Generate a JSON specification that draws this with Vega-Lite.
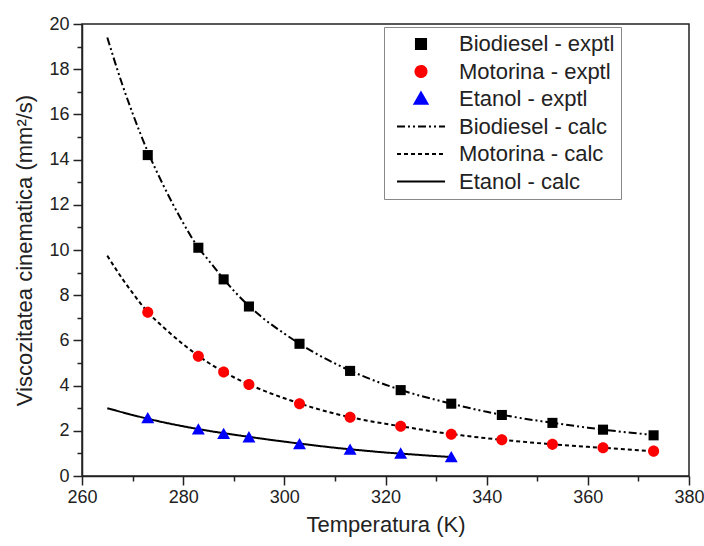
{
  "$schema": "https://vega.github.io/schema/vega-lite/v6.json",
  "width": 607,
  "height": 452,
  "autosize": "none",
  "padding": {"left": 82, "top": 24, "right": 15, "bottom": 70},
  "background": "white",
  "config": {
    "view": {"stroke": "#222", "strokeWidth": 1.5},
    "font": "Liberation Sans",
    "axis": {"grid": false, "labelFlush": false, "labelOverlap": false, "domainColor": "#222", "domainWidth": 1.5, "tickColor": "#222", "tickWidth": 1.5, "labelFont": "Liberation Sans", "labelFontSize": 18, "labelColor": "#222", "titleFont": "Liberation Sans", "titleFontSize": 22, "titleFontWeight": "normal", "titleColor": "#222"}
  },
  "resolve": {"axis": {"x": "independent", "y": "independent"}},
  "datasets": {
    "calc": [
      {"T": 265, "v": 19.4, "series": "Biodiesel - calc"},
      {"T": 268, "v": 17.3, "series": "Biodiesel - calc"},
      {"T": 270, "v": 16.05, "series": "Biodiesel - calc"},
      {"T": 273, "v": 14.35, "series": "Biodiesel - calc"},
      {"T": 276, "v": 12.9, "series": "Biodiesel - calc"},
      {"T": 280, "v": 11.2, "series": "Biodiesel - calc"},
      {"T": 283, "v": 10.1, "series": "Biodiesel - calc"},
      {"T": 285, "v": 9.55, "series": "Biodiesel - calc"},
      {"T": 290, "v": 8.2, "series": "Biodiesel - calc"},
      {"T": 295, "v": 7.13, "series": "Biodiesel - calc"},
      {"T": 300, "v": 6.3, "series": "Biodiesel - calc"},
      {"T": 305, "v": 5.58, "series": "Biodiesel - calc"},
      {"T": 310, "v": 4.98, "series": "Biodiesel - calc"},
      {"T": 315, "v": 4.47, "series": "Biodiesel - calc"},
      {"T": 320, "v": 4.04, "series": "Biodiesel - calc"},
      {"T": 325, "v": 3.67, "series": "Biodiesel - calc"},
      {"T": 330, "v": 3.37, "series": "Biodiesel - calc"},
      {"T": 335, "v": 3.09, "series": "Biodiesel - calc"},
      {"T": 340, "v": 2.84, "series": "Biodiesel - calc"},
      {"T": 345, "v": 2.63, "series": "Biodiesel - calc"},
      {"T": 350, "v": 2.45, "series": "Biodiesel - calc"},
      {"T": 355, "v": 2.29, "series": "Biodiesel - calc"},
      {"T": 360, "v": 2.14, "series": "Biodiesel - calc"},
      {"T": 365, "v": 2.0, "series": "Biodiesel - calc"},
      {"T": 370, "v": 1.88, "series": "Biodiesel - calc"},
      {"T": 373, "v": 1.82, "series": "Biodiesel - calc"},
      {"T": 265, "v": 9.75, "series": "Motorina - calc"},
      {"T": 268, "v": 8.72, "series": "Motorina - calc"},
      {"T": 270, "v": 8.1, "series": "Motorina - calc"},
      {"T": 273, "v": 7.25, "series": "Motorina - calc"},
      {"T": 276, "v": 6.6, "series": "Motorina - calc"},
      {"T": 280, "v": 5.83, "series": "Motorina - calc"},
      {"T": 285, "v": 5.01, "series": "Motorina - calc"},
      {"T": 290, "v": 4.37, "series": "Motorina - calc"},
      {"T": 295, "v": 3.86, "series": "Motorina - calc"},
      {"T": 300, "v": 3.44, "series": "Motorina - calc"},
      {"T": 305, "v": 3.07, "series": "Motorina - calc"},
      {"T": 310, "v": 2.76, "series": "Motorina - calc"},
      {"T": 315, "v": 2.51, "series": "Motorina - calc"},
      {"T": 320, "v": 2.31, "series": "Motorina - calc"},
      {"T": 325, "v": 2.13, "series": "Motorina - calc"},
      {"T": 330, "v": 1.95, "series": "Motorina - calc"},
      {"T": 335, "v": 1.8, "series": "Motorina - calc"},
      {"T": 340, "v": 1.67, "series": "Motorina - calc"},
      {"T": 345, "v": 1.56, "series": "Motorina - calc"},
      {"T": 350, "v": 1.46, "series": "Motorina - calc"},
      {"T": 355, "v": 1.37, "series": "Motorina - calc"},
      {"T": 360, "v": 1.29, "series": "Motorina - calc"},
      {"T": 365, "v": 1.22, "series": "Motorina - calc"},
      {"T": 370, "v": 1.14, "series": "Motorina - calc"},
      {"T": 373, "v": 1.1, "series": "Motorina - calc"},
      {"T": 265, "v": 3.0, "series": "Etanol - calc"},
      {"T": 270, "v": 2.7, "series": "Etanol - calc"},
      {"T": 275, "v": 2.43, "series": "Etanol - calc"},
      {"T": 280, "v": 2.2, "series": "Etanol - calc"},
      {"T": 285, "v": 2.0, "series": "Etanol - calc"},
      {"T": 290, "v": 1.83, "series": "Etanol - calc"},
      {"T": 295, "v": 1.67, "series": "Etanol - calc"},
      {"T": 300, "v": 1.52, "series": "Etanol - calc"},
      {"T": 305, "v": 1.38, "series": "Etanol - calc"},
      {"T": 310, "v": 1.25, "series": "Etanol - calc"},
      {"T": 315, "v": 1.14, "series": "Etanol - calc"},
      {"T": 320, "v": 1.04, "series": "Etanol - calc"},
      {"T": 325, "v": 0.96, "series": "Etanol - calc"},
      {"T": 330, "v": 0.88, "series": "Etanol - calc"},
      {"T": 333, "v": 0.84, "series": "Etanol - calc"}
    ],
    "exptl": [
      {"T": 273, "v": 14.2, "series": "Biodiesel - exptl"},
      {"T": 283, "v": 10.1, "series": "Biodiesel - exptl"},
      {"T": 288, "v": 8.7, "series": "Biodiesel - exptl"},
      {"T": 293, "v": 7.5, "series": "Biodiesel - exptl"},
      {"T": 303, "v": 5.85, "series": "Biodiesel - exptl"},
      {"T": 313, "v": 4.65, "series": "Biodiesel - exptl"},
      {"T": 323, "v": 3.8, "series": "Biodiesel - exptl"},
      {"T": 333, "v": 3.2, "series": "Biodiesel - exptl"},
      {"T": 343, "v": 2.7, "series": "Biodiesel - exptl"},
      {"T": 353, "v": 2.35, "series": "Biodiesel - exptl"},
      {"T": 363, "v": 2.05, "series": "Biodiesel - exptl"},
      {"T": 373, "v": 1.8, "series": "Biodiesel - exptl"},
      {"T": 273, "v": 7.25, "series": "Motorina - exptl"},
      {"T": 283, "v": 5.3, "series": "Motorina - exptl"},
      {"T": 288, "v": 4.6, "series": "Motorina - exptl"},
      {"T": 293, "v": 4.05, "series": "Motorina - exptl"},
      {"T": 303, "v": 3.2, "series": "Motorina - exptl"},
      {"T": 313, "v": 2.6, "series": "Motorina - exptl"},
      {"T": 323, "v": 2.2, "series": "Motorina - exptl"},
      {"T": 333, "v": 1.85, "series": "Motorina - exptl"},
      {"T": 343, "v": 1.6, "series": "Motorina - exptl"},
      {"T": 353, "v": 1.4, "series": "Motorina - exptl"},
      {"T": 363, "v": 1.25, "series": "Motorina - exptl"},
      {"T": 373, "v": 1.1, "series": "Motorina - exptl"},
      {"T": 273, "v": 2.55, "series": "Etanol - exptl"},
      {"T": 283, "v": 2.05, "series": "Etanol - exptl"},
      {"T": 288, "v": 1.85, "series": "Etanol - exptl"},
      {"T": 293, "v": 1.7, "series": "Etanol - exptl"},
      {"T": 303, "v": 1.4, "series": "Etanol - exptl"},
      {"T": 313, "v": 1.15, "series": "Etanol - exptl"},
      {"T": 323, "v": 0.98, "series": "Etanol - exptl"},
      {"T": 333, "v": 0.82, "series": "Etanol - exptl"}
    ]
  },
  "layer": [
    {
      "data": {"name": "calc"},
      "mark": {"type": "line", "strokeWidth": 2, "interpolate": "monotone"},
      "encoding": {
        "x": {"field": "T", "type": "quantitative", "scale": {"domain": [260, 380], "nice": false, "zero": false},
          "axis": {"values": [260, 280, 300, 320, 340, 360, 380], "tickSize": 9, "labelPadding": 3, "title": "Temperatura (K)", "titlePadding": 8, "orient": "bottom"}},
        "y": {"field": "v", "type": "quantitative", "scale": {"domain": [0, 20], "nice": false},
          "axis": {"values": [0, 2, 4, 6, 8, 10, 12, 14, 16, 18, 20], "tickSize": 9, "labelPadding": 4, "title": "Viscozitatea cinematica (mm²/s)", "titlePadding": 12, "orient": "left"}},
        "color": {"field": "series", "type": "nominal",
          "scale": {"domain": ["Biodiesel - exptl", "Motorina - exptl", "Etanol - exptl", "Biodiesel - calc", "Motorina - calc", "Etanol - calc"], "range": ["#000000", "#ff0000", "#0000ff", "#000000", "#000000", "#000000"]},
          "legend": {"title": null, "orient": "none", "legendX": 302, "legendY": 3, "strokeColor": "#888", "fillColor": "white", "padding": 6, "labelFontSize": 22, "labelFont": "Liberation Sans", "labelColor": "#222", "labelLimit": 400, "symbolSize": 2304, "symbolStrokeWidth": 2, "clipHeight": 22, "rowPadding": 5.5, "symbolOffset": 6, "labelOffset": 13}},
        "strokeDash": {"field": "series", "type": "nominal",
          "scale": {"domain": ["Biodiesel - exptl", "Motorina - exptl", "Etanol - exptl", "Biodiesel - calc", "Motorina - calc", "Etanol - calc"], "range": [[1, 0], [1, 0], [1, 0], [8, 3, 2, 3, 2, 3], [4, 3], [1, 0]]}}
      }
    },
    {
      "data": {"name": "exptl"},
      "mark": {"type": "point", "filled": true, "opacity": 1, "size": 2304, "strokeWidth": 0},
      "encoding": {
        "x": {"field": "T", "type": "quantitative",
          "axis": {"values": [270, 290, 310, 330, 350, 370], "tickSize": 5, "labels": false, "domain": false, "title": null, "orient": "bottom"}},
        "y": {"field": "v", "type": "quantitative",
          "axis": {"values": [1, 3, 5, 7, 9, 11, 13, 15, 17, 19], "tickSize": 5, "labels": false, "domain": false, "title": null, "orient": "left"}},
        "color": {"field": "series", "type": "nominal",
          "scale": {"domain": ["Biodiesel - exptl", "Motorina - exptl", "Etanol - exptl", "Biodiesel - calc", "Motorina - calc", "Etanol - calc"], "range": ["#000000", "#ff0000", "#0000ff", "#000000", "#000000", "#000000"]}},
        "shape": {"field": "series", "type": "nominal",
          "scale": {"domain": ["Biodiesel - exptl", "Motorina - exptl", "Etanol - exptl", "Biodiesel - calc", "Motorina - calc", "Etanol - calc"], "range": ["M-0.21,-0.21H0.21V0.21H-0.21Z", "M-0.23,0A0.23,0.23 0 1,0 0.23,0A0.23,0.23 0 1,0 -0.23,0Z", "M0,-0.27L0.27,0.2L-0.27,0.2Z", "stroke", "stroke", "stroke"]}}
      }
    }
  ]
}
